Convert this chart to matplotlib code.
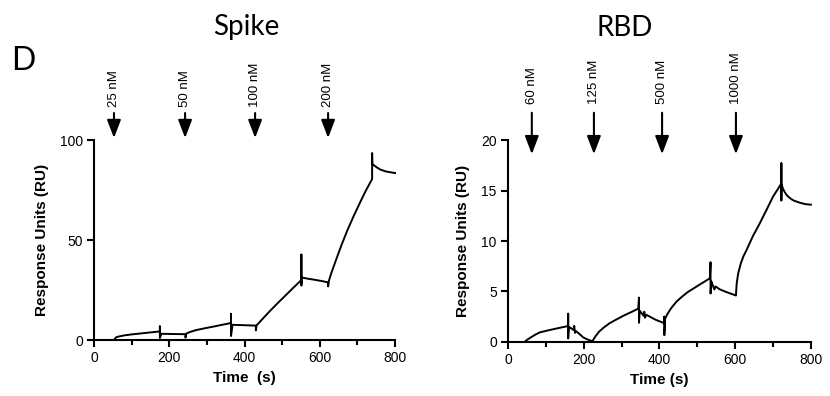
"""SPR binding sensorgrams for Spike and RBD (panel D)."""

import matplotlib
matplotlib.use("Agg")
import matplotlib.pyplot as plt
from matplotlib.ticker import MultipleLocator

# Spike sensorgram (time in s, response in RU)
spike_time = [0, 53, 56, 60, 70, 80, 100, 120, 150, 175, 175, 175, 179, 210,
              243, 243, 245, 255, 270, 295, 320, 343, 364, 364, 364, 368, 400,
              430, 430, 432, 450, 470, 490, 510, 530, 551, 551, 551, 553, 570,
              590, 610, 622, 622, 624, 630, 643, 657, 672, 690, 707, 722, 739,
              739, 739.5, 745, 750, 760, 775, 790, 800]
spike_ru = [0, 0, 0.8, 1.5, 1.9, 2.3, 2.8, 3.2, 3.8, 4.3, 6.8, 1.0, 3.1, 3.0,
            2.9, 1.2, 3.2, 4.0, 4.9, 5.9, 6.8, 7.7, 8.5, 13.0, 2.0, 7.6, 7.4,
            7.2, 4.8, 7.3, 11.0, 15.0, 18.8, 22.5, 26.2, 30.0, 42.7, 27.2, 31.2,
            30.6, 30.0, 29.3, 28.8, 26.8, 29.5, 33.2, 40.0, 47.2, 54.3, 62.0,
            68.8, 74.6, 80.5, 93.5, 88.0, 87.2, 86.5, 85.3, 84.3, 83.8, 83.5]

# RBD sensorgram
rbd_time = [0, 44, 50, 60, 72, 84, 106, 130, 155, 159, 159, 159, 161, 173, 175,
            177, 179, 190, 199, 210, 221, 223, 225, 230, 240, 252, 268, 285,
            305, 325, 344, 346, 346, 348, 358, 360, 362, 365, 390, 410, 413,
            413, 413, 415, 420, 430, 445, 460, 475, 490, 507, 520, 533, 535,
            535, 537, 540, 545, 548, 560, 580, 599, 602, 604, 608, 615, 622,
            630, 647, 665, 683, 700, 712, 722, 722, 722, 722.5, 726, 730, 735,
            740, 748, 755, 770, 785, 800]
rbd_ru = [0, 0, 0.2, 0.45, 0.72, 0.95, 1.15, 1.35, 1.55, 1.6, 2.8, 0.35, 1.5,
          1.2, 1.6, 0.9, 1.1, 0.75, 0.45, 0.25, 0.1, 0.0, 0.2, 0.5, 1.0, 1.4,
          1.85, 2.2, 2.6, 2.95, 3.3, 4.4, 1.9, 3.1, 2.6, 3.0, 2.4, 2.7, 2.2,
          1.9, 1.8, 2.5, 0.67, 2.3, 2.7, 3.3, 4.0, 4.5, 4.95, 5.3, 5.7, 6.0,
          6.3, 7.9, 4.8, 6.0, 5.7, 5.2, 5.5, 5.2, 4.9, 4.65, 4.6, 5.8, 6.8,
          7.8, 8.5, 9.1, 10.5, 11.75, 13.1, 14.4, 15.1, 15.7, 17.7, 14.0,
          15.6, 15.2, 14.9, 14.6, 14.4, 14.15, 14.0, 13.8, 13.65, 13.6]

# injection markers
spike_inj = [53, 242, 428, 622]
spike_conc = ["25 nM", "50 nM", "100 nM", "200 nM"]
rbd_inj = [63, 227, 407, 602]
rbd_conc = ["60 nM", "125 nM", "500 nM", "1000 nM"]

fig = plt.figure(figsize=(8.3, 3.96), dpi=100)
ax1 = fig.add_axes([0.1133, 0.1414, 0.3627, 0.505])
ax2 = fig.add_axes([0.612, 0.1364, 0.365, 0.510])

ARIAL = "Liberation Sans"
TITLE_FONT = "Lato"


def style_axis(ax, ymax, ystep, xlabel):
    ax.set_xlim(0, 800)
    ax.set_ylim(0, ymax)
    for side in ("top", "right"):
        ax.spines[side].set_visible(False)
    for side in ("left", "bottom"):
        ax.spines[side].set_linewidth(1.5)
    ax.xaxis.set_major_locator(MultipleLocator(200))
    ax.xaxis.set_minor_locator(MultipleLocator(100))
    ax.yaxis.set_major_locator(MultipleLocator(ystep))
    ax.tick_params(which="major", length=5, width=1.5, labelsize=10, pad=3)
    ax.tick_params(which="minor", length=3.5, width=1.5)
    for lab in ax.get_xticklabels() + ax.get_yticklabels():
        lab.set_fontfamily(ARIAL)
    ax.set_xlabel(xlabel, fontsize=11, fontweight="bold", family=ARIAL, labelpad=4)
    ax.set_ylabel("Response Units (RU)", fontsize=11, fontweight="bold",
                  family=ARIAL, labelpad=8)


def add_injections(ax, times, labels, top, tip, text_y):
    for t, lab in zip(times, labels):
        ax.annotate("", xy=(t, tip), xytext=(t, top), annotation_clip=False,
                    arrowprops=dict(arrowstyle="-|>,head_length=1.1,head_width=0.42",
                                    color="black", lw=1.5, shrinkA=0, shrinkB=0,
                                    mutation_scale=10))
        ax.text(t, text_y, lab, rotation=90, ha="center", va="bottom",
                fontsize=9.5, family=ARIAL, clip_on=False)


ax1.plot(spike_time, spike_ru, color="black", lw=1.4, clip_on=False)
style_axis(ax1, 100, 50, "Time  (s)")
add_injections(ax1, spike_inj, spike_conc, 113.5, 101, 116.5)

ax2.plot(rbd_time, rbd_ru, color="black", lw=1.4, clip_on=False)
style_axis(ax2, 20, 5, "Time (s)")
add_injections(ax2, rbd_inj, rbd_conc, 22.7, 18.6, 23.6)

fig.text(246 / 830, 1 - 35 / 396, "Spike", ha="center", va="baseline",
         fontsize=20, family=TITLE_FONT)
fig.text(625 / 830, 1 - 36 / 396, "RBD", ha="center", va="baseline",
         fontsize=20, family=TITLE_FONT)
fig.text(11 / 830, 1 - 70 / 396, "D", ha="left", va="baseline",
         fontsize=23, family=TITLE_FONT)

fig.savefig("out.png", dpi=100)
